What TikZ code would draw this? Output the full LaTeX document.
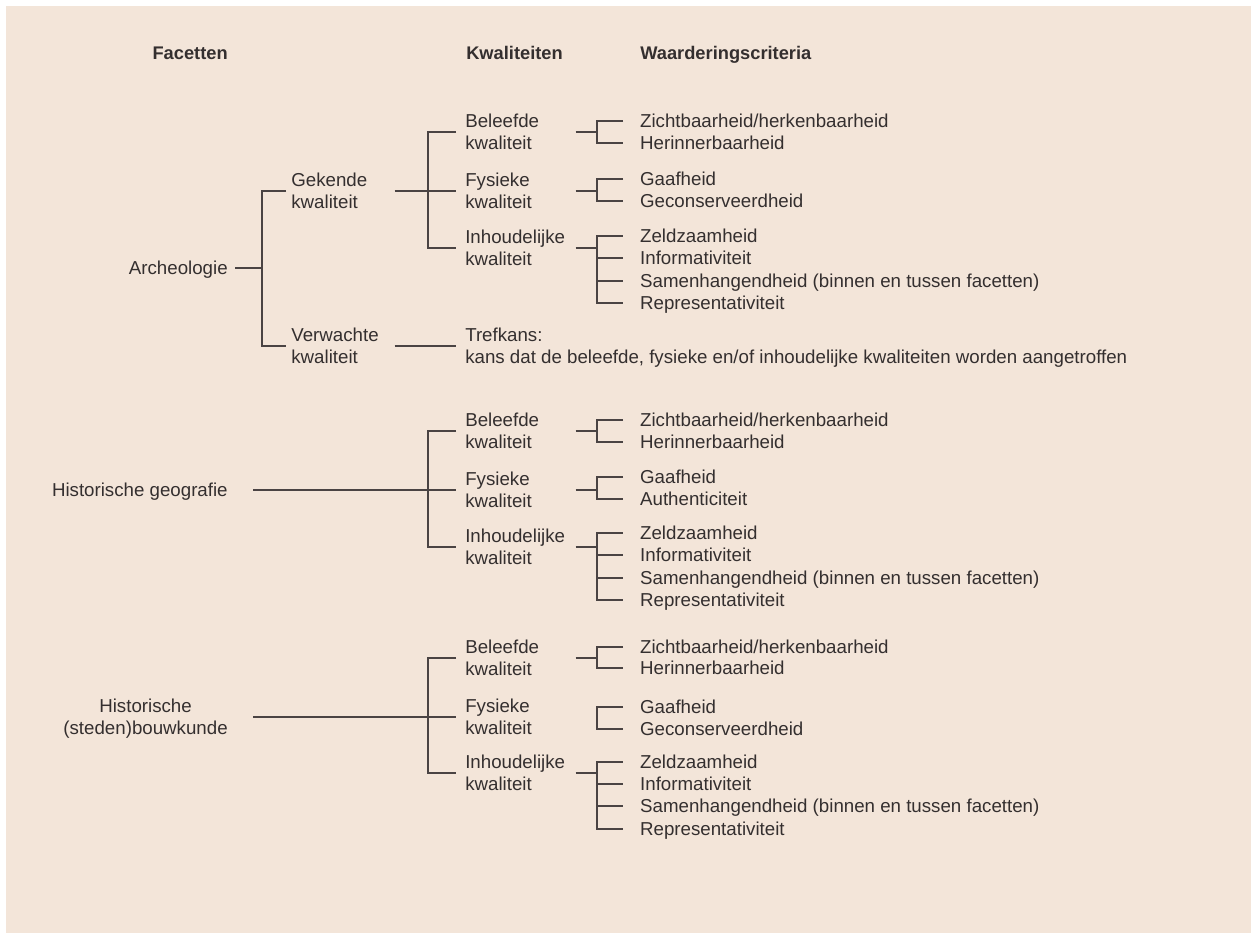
\documentclass[tikz,border=0pt]{standalone}
\usepackage{fontspec}
\setmainfont{Liberation Sans}
\definecolor{bgbeige}{RGB}{243,229,217}
\definecolor{ink}{RGB}{52,47,47}
\definecolor{linegray}{RGB}{74,67,67}
\tikzset{
	lbl/.style={font=\fontsize{13.3}{15.9}\selectfont, text=ink, inner ysep=0pt},
	one/.style={text height=9.5pt, text depth=0pt},
	two/.style={text height=9.5pt, text depth=15.9pt},
	twob/.style={text height=25.4pt, text depth=0pt},
	head/.style={font=\fontsize{13}{15.9}\selectfont\bfseries, text=ink, inner sep=0pt},
	facet/.style={lbl, anchor=east, align=center, inner xsep=5pt},
	level/.style={lbl, two, anchor=west, align=left, text width=69.7pt, inner xsep=3.6pt},
	kwal/.style={lbl, two, anchor=west, align=left, text width=71.8pt, inner xsep=6.4pt},
	crit/.style={lbl, one, anchor=west, inner xsep=12pt},
	wire/.style={draw=linegray, line width=1pt},
}
\begin{document}
\begin{tikzpicture}[x=0.025cm, y=-0.025cm]
	\useasboundingbox (0,0) rectangle (1251,934);
	\fill[bgbeige] (6,6) rectangle (1251,933);
	
	\node[head, anchor=base east] (hfac) at (228,59) {Facetten};
	\node[head, anchor=base west] (hkwal) at (466,59) {Kwaliteiten};
	\node[head, anchor=base west] (hcrit) at (640,59) {Waarderingscriteria};
	
	% archeologie
	\node[facet, one] (arch) at (235,268) {Archeologie};
	\node[level] (gek) at (286,191) {Gekende\\kwaliteit};
	\node[level] (verw) at (286,346) {Verwachte\\kwaliteit};
	\coordinate (archj) at (262,268);
	\draw[wire] (arch.east) -- (archj);
	\draw[wire] (gek.west) -| (archj) |- (verw.west);
	
	\node[kwal] (ab) at (456,132) {Beleefde\\kwaliteit};
	\node[kwal] (af) at (456,191) {Fysieke\\kwaliteit};
	\node[kwal] (ai) at (456,248) {Inhoudelijke\\kwaliteit};
	\coordinate (gekj) at (428,191);
	\draw[wire] (gek.east) -- (af.west);
	\draw[wire] (ab.west) -| (gekj) |- (ai.west);
	
	\node[crit] (ab1) at (623,121) {Zichtbaarheid/herkenbaarheid};
	\node[crit] (ab2) at (623,143) {Herinnerbaarheid};
	\node[crit] (af1) at (623,179) {Gaafheid};
	\node[crit] (af2) at (623,201) {Geconserveerdheid};
	\node[crit] (ai1) at (623,236) {Zeldzaamheid};
	\node[crit] (ai2) at (623,258) {Informativiteit};
	\node[crit] (ai3) at (623,281) {Samenhangendheid (binnen en tussen facetten)};
	\node[crit] (ai4) at (623,303) {Representativiteit};
	\coordinate (abj) at (597,132);
	\coordinate (afj) at (597,191);
	\coordinate (aij) at (597,248);
	\draw[wire] (ab.east) -- (abj);
	\draw[wire] (ab1.west) -| (abj) |- (ab2.west);
	\draw[wire] (af.east) -- (afj);
	\draw[wire] (af1.west) -| (afj) |- (af2.west);
	\draw[wire] (ai.east) -- (aij);
	\foreach \c in {ai1,ai2,ai3,ai4}
		\draw[wire] (aij) |- (\c.west);
	
	\node[lbl, twob, anchor=west, align=left, inner xsep=6.4pt] (tref) at (456,346) {Trefkans:\\kans dat de beleefde, fysieke en/of inhoudelijke kwaliteiten worden aangetroffen};
	\draw[wire] (verw.east) -- (tref.west);
	
	% historische geografie
	\node[facet, one, inner xsep=17.8pt] (geo) at (253,490) {Historische geografie};
	\node[kwal] (gb) at (456,431) {Beleefde\\kwaliteit};
	\node[kwal] (gf) at (456,490) {Fysieke\\kwaliteit};
	\node[kwal] (gi) at (456,547) {Inhoudelijke\\kwaliteit};
	\coordinate (geoj) at (428,490);
	\draw[wire] (geo.east) -- (gf.west);
	\draw[wire] (gb.west) -| (geoj) |- (gi.west);
	
	\node[crit] (gb1) at (623,420) {Zichtbaarheid/herkenbaarheid};
	\node[crit] (gb2) at (623,442) {Herinnerbaarheid};
	\node[crit] (gf1) at (623,477) {Gaafheid};
	\node[crit] (gf2) at (623,499) {Authenticiteit};
	\node[crit] (gi1) at (623,533) {Zeldzaamheid};
	\node[crit] (gi2) at (623,555) {Informativiteit};
	\node[crit] (gi3) at (623,578) {Samenhangendheid (binnen en tussen facetten)};
	\node[crit] (gi4) at (623,600) {Representativiteit};
	\coordinate (gbj) at (597,431);
	\coordinate (gfj) at (597,490);
	\coordinate (gij) at (597,547);
	\draw[wire] (gb.east) -- (gbj);
	\draw[wire] (gb1.west) -| (gbj) |- (gb2.west);
	\draw[wire] (gf.east) -- (gfj);
	\draw[wire] (gf1.west) -| (gfj) |- (gf2.west);
	\draw[wire] (gi.east) -- (gij);
	\foreach \c in {gi1,gi2,gi3,gi4}
		\draw[wire] (gij) |- (\c.west);
	
	% historische (steden)bouwkunde
	\node[facet, twob, inner xsep=17.8pt] (bouw) at (253,717) {Historische\\(steden)bouwkunde};
	\node[kwal] (hb) at (456,658) {Beleefde\\kwaliteit};
	\node[kwal] (hf) at (456,717) {Fysieke\\kwaliteit};
	\node[kwal] (hi) at (456,773) {Inhoudelijke\\kwaliteit};
	\coordinate (bouwj) at (428,717);
	\draw[wire] (bouw.east) -- (hf.west);
	\draw[wire] (hb.west) -| (bouwj) |- (hi.west);
	
	\node[crit] (hb1) at (623,647) {Zichtbaarheid/herkenbaarheid};
	\node[crit] (hb2) at (623,668) {Herinnerbaarheid};
	\node[crit] (hf1) at (623,707) {Gaafheid};
	\node[crit] (hf2) at (623,729) {Geconserveerdheid};
	\node[crit] (hi1) at (623,762) {Zeldzaamheid};
	\node[crit] (hi2) at (623,784) {Informativiteit};
	\node[crit] (hi3) at (623,806) {Samenhangendheid (binnen en tussen facetten)};
	\node[crit] (hi4) at (623,829) {Representativiteit};
	\coordinate (hbj) at (597,658);
	\coordinate (hfj) at (597,718);
	\coordinate (hij) at (597,773);
	\draw[wire] (hb.east) -- (hbj);
	\draw[wire] (hb1.west) -| (hbj) |- (hb2.west);
	\draw[wire] (hf1.west) -| (hfj) |- (hf2.west);
	\draw[wire] (hi.east) -- (hij);
	\foreach \c in {hi1,hi2,hi3,hi4}
		\draw[wire] (hij) |- (\c.west);
	
\end{tikzpicture}
\end{document}
